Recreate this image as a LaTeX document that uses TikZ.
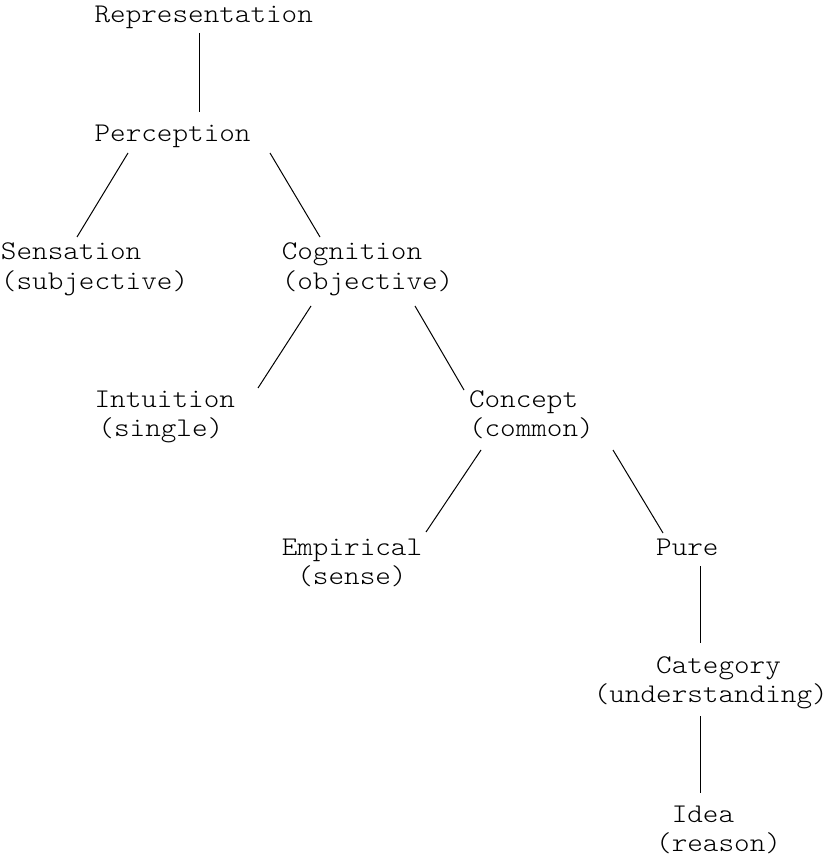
\documentclass[tikz,border=0pt]{standalone}
\usepackage{fontspec}
\newfontfamily\courf[FakeStretch=1.1]{lmmonolt10-regular.otf}
\usetikzlibrary{calc}
\newcommand\indcols[1]{\hspace*{#1\fontcharwd\font`x}}
\newcommand\stack[1]{\begin{tabular}[t]{@{}l@{}}#1\end{tabular}}
\begin{document}
\begin{tikzpicture}[x=1pt,y=-1pt,
  lbl/.style={anchor=base west, inner sep=0pt, outer sep=0pt,
    font=\courf\fontsize{27}{29.5}\selectfont, text=black},
  edge/.style={draw=black, line width=1pt}]
\useasboundingbox (0,0) rectangle (836,858);
% nodes
\node[lbl] (rep)  at (94.6,23)  {\stack{Representation}};
\node[lbl] (perc) at (94.6,142) {\stack{Perception}};
\node[lbl] (sens) at (1,260)    {\stack{Sensation\\(subjective)}};
\node[lbl] (cog)  at (281.8,260){\stack{Cognition\\(objective)}};
\node[lbl] (int)  at (94.6,407) {\stack{Intuition\\\indcols{0.25}(single)}};
\node[lbl] (con)  at (469,407)  {\stack{Concept\\(common)}};
\node[lbl] (emp)  at (281.8,555){\stack{Empirical\\\indcols{1}(sense)}};
\node[lbl] (pure) at (656.2,555) {\stack{Pure}};
\node[lbl] (cat)  at (593.8,673){\stack{\indcols{4}Category\\(understanding)}};
\node[lbl] (idea) at (656.2,822){\stack{\indcols{1}Idea\\(reason)}};
% connectors
\draw[edge] ($(rep.base west)+(104.4,10)$) -- ($(perc.base west)+(104.4,-30)$);
\draw[edge] ($(perc.base west)+(33.4,11)$) -- ($(sens.base west)+(76,-23)$);
\draw[edge] ($(perc.base west)+(175.4,11)$) -- ($(cog.base west)+(38.2,-23)$);
\draw[edge] ($(cog.base west)+(29.2,46)$) -- ($(int.base west)+(163.4,-19)$);
\draw[edge] ($(cog.base west)+(133.2,46)$) -- ($(con.base west)+(-5,-17)$);
\draw[edge] ($(con.base west)+(12,43)$) -- ($(emp.base west)+(144.2,-23)$);
\draw[edge] ($(con.base west)+(144,43)$) -- ($(pure.base west)+(6.8,-22)$);
\draw[edge] ($(pure.base west)+(43.8,11)$) -- ($(cat.base west)+(106.2,-30)$);
\draw[edge] ($(cat.base west)+(106.2,43)$) -- ($(idea.base west)+(43.8,-29)$);
\end{tikzpicture}
\end{document}
